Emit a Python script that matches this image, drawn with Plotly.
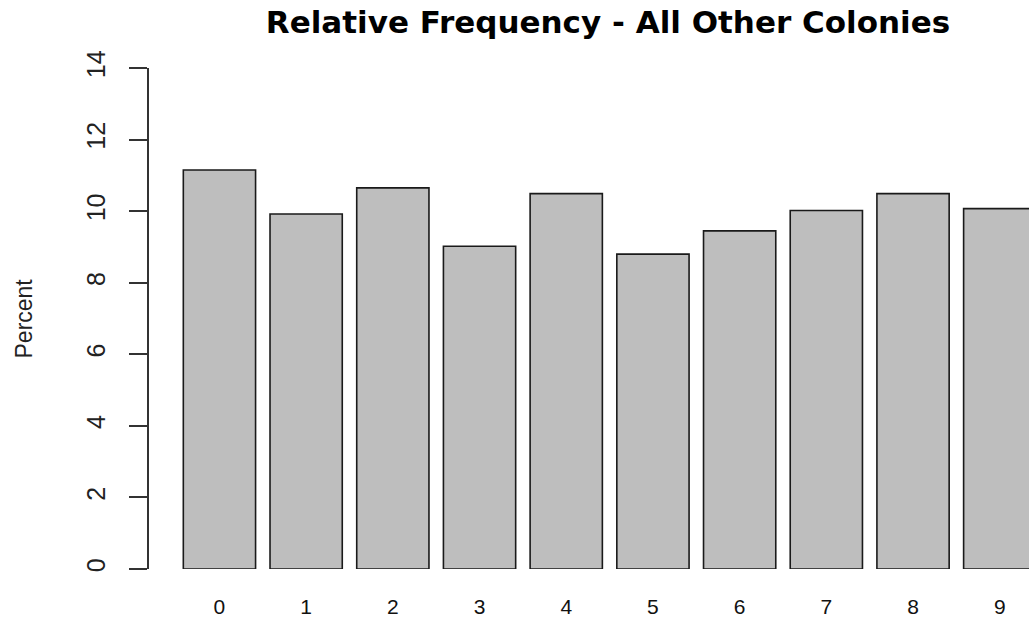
import plotly.graph_objects as go

# Leading digit categories and their relative frequency (percent)
digits = ["0", "1", "2", "3", "4", "5", "6", "7", "8", "9"]
percent = [11.15, 9.92, 10.65, 9.02, 10.49, 8.80, 9.45, 10.02, 10.49, 10.07]
y_ticks = [0, 2, 4, 6, 8, 10, 12, 14]

# barplot-style positions: width 1, gap 0.2 between bars
bar_width = 1.0
space = 0.2
centers = [space + bar_width / 2 + i * (bar_width + space) for i in range(len(digits))]

fig = go.Figure(
    go.Bar(
        x=centers,
        y=percent,
        width=bar_width,
        marker=dict(color="#BEBEBE", line=dict(color="#1a1a1a", width=1.6)),
        hoverinfo="skip",
    )
)

fig.update_layout(
    width=1029,
    height=618,
    margin=dict(l=149, r=0, t=68, b=49),
    paper_bgcolor="white",
    plot_bgcolor="white",
    showlegend=False,
    title=dict(
        text="<b>Relative Frequency - All Other Colonies</b>",
        font=dict(family="DejaVu Sans", size=31, color="black"),
        x=608 / 1029,
        xanchor="center",
        xref="container",
        y=1 - 22 / 618,
        yanchor="middle",
        yref="container",
    ),
    annotations=[
        dict(
            text="Percent",
            textangle=-90,
            xref="paper",
            yref="paper",
            x=(23 - 149) / 880,
            y=0.5,
            xanchor="center",
            yanchor="middle",
            showarrow=False,
            font=dict(family="Liberation Sans Narrow, Liberation Sans, Arial", size=23, color="#222"),
        )
    ],
)

fig.update_xaxes(
    range=[-0.275, 11.905],
    tickvals=centers,
    ticktext=digits,
    ticks="",
    showline=False,
    showgrid=False,
    zeroline=False,
    ticklabelstandoff=23,
    tickfont=dict(family="Liberation Sans, Arial", size=21, color="#111"),
)

fig.update_yaxes(
    range=[0, 14],
    tickvals=y_ticks,
    ticktext=[str(v) for v in y_ticks],
    ticks="outside",
    ticklen=18,
    tickwidth=1.5,
    tickcolor="#333",
    showline=True,
    linecolor="#333",
    linewidth=1.5,
    showgrid=False,
    zeroline=False,
    tickangle=-90,
    ticklabelstandoff=14,
    tickfont=dict(family="Liberation Sans Narrow, Liberation Sans, Arial", size=25, color="#222"),
)

fig.write_html("out.html")
